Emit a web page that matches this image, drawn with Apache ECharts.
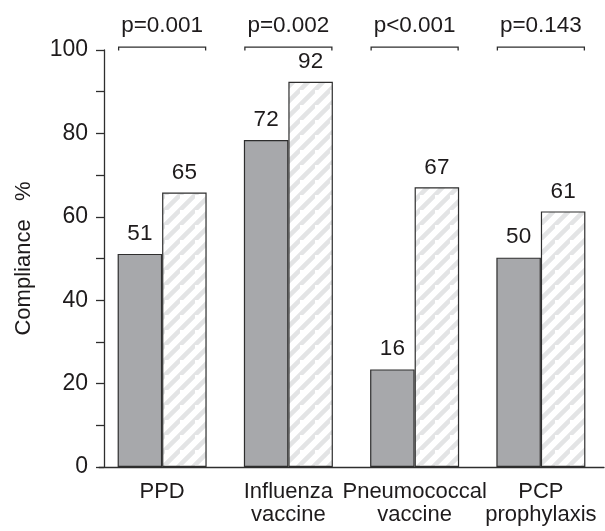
<!DOCTYPE html>
<html><head><meta charset="utf-8">
<script src="https://cdn.jsdelivr.net/npm/echarts@6/dist/echarts.min.js"></script>
<style>html,body{margin:0;padding:0;background:#fff}#c{width:605px;height:531px}</style>
</head><body><div id="c"></div>
<script>
const categories = ['PPD', 'Influenza\nvaccine', 'Pneumococcal\nvaccine', 'PCP\nprophylaxis'];
const grayValues = [51.1, 78.4, 23.4, 50.2];
const grayLabels = ['51', '72', '16', '50'];
const hatchValues = [65.8, 92.4, 67.1, 61.3];
const hatchLabels = ['65', '92', '67', '61'];
const pLabels = ['p=0.001', 'p=0.002', 'p<0.001', 'p=0.143'];
const bracketLevel = 100.7;
const yLabelTicks = [0, 20, 40, 60, 80, 100];

const FONT = 'Liberation Sans, Arial, sans-serif';
const INK = '#1e1b1c';
const LINE = '#2e2e2e';
const BAR_W = 44.5;

const P = 15;
const pc = document.createElement('canvas');
pc.width = P; pc.height = P;
const g = pc.getContext('2d');
g.fillStyle = '#ffffff'; g.fillRect(0, 0, P, P);
g.strokeStyle = '#e3e4e5'; g.lineWidth = 4.5;
g.beginPath();
g.moveTo(-3, P + 3); g.lineTo(P + 3, -3);
g.moveTo(-P - 3, 3); g.lineTo(3, -P - 3);
g.moveTo(-3, 2 * P + 3); g.lineTo(2 * P + 3, -3);
g.stroke();

const chart = echarts.init(document.getElementById('c'), null, {renderer: 'canvas'});
chart.setOption({
  animation: false,
  backgroundColor: '#fff',
  grid: {left: 99, right: 1, top: 50, bottom: 64, containLabel: false, outerBoundsMode: 'none'},
  xAxis: {
    type: 'category', data: categories,
    axisLine: {lineStyle: {color: LINE, width: 1.3}},
    axisTick: {show: false},
    axisLabel: {interval: 0, fontFamily: FONT, fontSize: 22, lineHeight: 23, color: INK, margin: 13,
      hideOverlap: false}
  },
  yAxis: {
    type: 'value', min: 0, max: 100, interval: 10, offset: -5,
    name: 'Compliance   %', nameLocation: 'middle', nameGap: 69,
    nameTextStyle: {fontFamily: FONT, fontSize: 22, color: INK},
    axisLine: {show: true, lineStyle: {color: LINE, width: 1.3}},
    axisTick: {show: true, length: 8, lineStyle: {color: LINE, width: 1.3}},
    splitLine: {show: false},
    axisLabel: {
      fontFamily: FONT, fontSize: 23, color: INK, margin: 16,
      formatter: v => yLabelTicks.includes(v) ? String(v) : ''
    }
  },
  series: [
    {
      type: 'bar', data: grayValues, barWidth: BAR_W, barGap: '0%',
      itemStyle: {color: '#a7a8ab', borderColor: LINE, borderWidth: 1.2},
      label: {show: true, position: 'top', distance: 9, fontFamily: FONT, fontSize: 22.5, color: INK,
        formatter: p => grayLabels[p.dataIndex]}
    },
    {
      type: 'bar', data: hatchValues, barWidth: BAR_W, barGap: '0%',
      itemStyle: {color: {image: pc, repeat: 'repeat'}, borderColor: LINE, borderWidth: 1.2},
      label: {show: true, position: 'top', distance: 8, fontFamily: FONT, fontSize: 22.5, color: INK,
        formatter: p => hatchLabels[p.dataIndex]}
    },
    {
      type: 'custom', silent: true, clip: false,
      data: pLabels.map((t, i) => [i, bracketLevel]),
      renderItem: (params, api) => {
        const i = api.value(0);
        const pt = api.coord([i, api.value(1)]);
        const x = pt[0], y = pt[1];
        const l = x - BAR_W + 1, r = x + BAR_W - 1;
        return {
          type: 'group',
          children: [
            {type: 'polyline', shape: {points: [[l, y + 3.5], [l, y], [r, y], [r, y + 3.5]]},
              style: {stroke: LINE, lineWidth: 1.3, fill: null}},
            {type: 'text', x: x, y: y - 21,
              style: {text: pLabels[i], fontFamily: FONT, fontSize: 22.5, fill: INK, align: 'center', verticalAlign: 'middle'}}
          ]
        };
      }
    }
  ]
});
</script></body></html>
